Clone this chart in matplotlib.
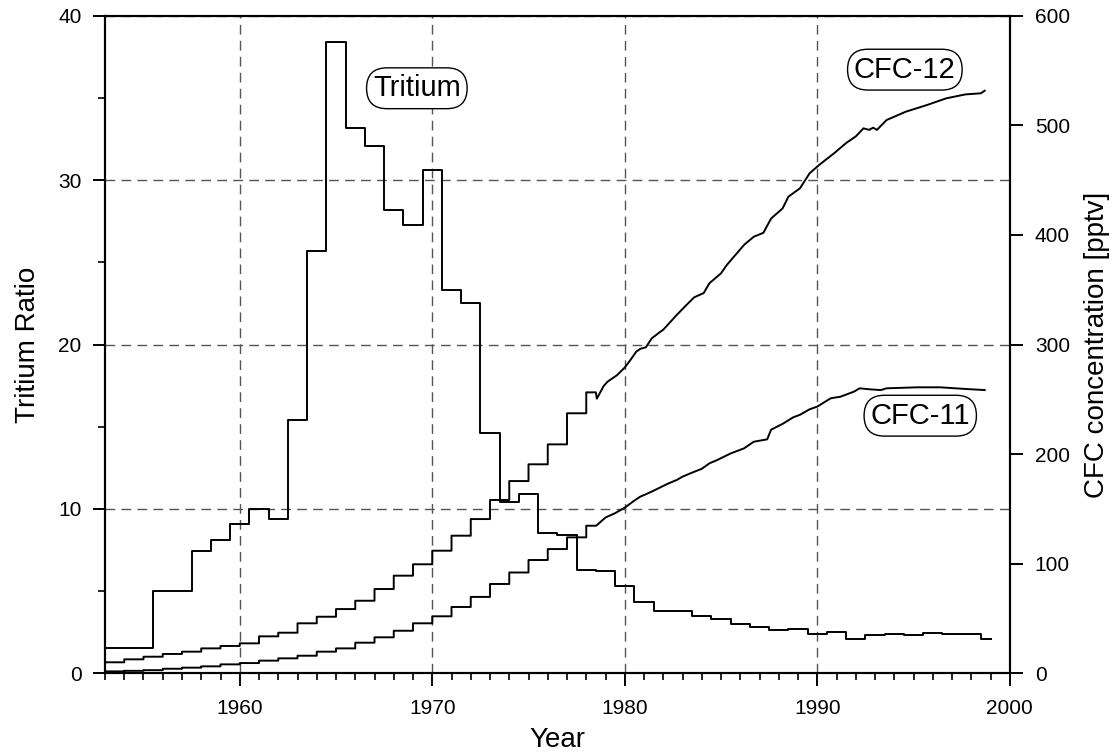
import numpy as np
import matplotlib.pyplot as plt
from matplotlib.ticker import MultipleLocator

plt.rcParams['font.family'] = ['Liberation Sans', 'DejaVu Sans']

# tritium ratio, one value per year
trit_years = np.arange(1953, 2000)
trit_vals = [1.5, 1.5, 1.5, 5.0, 5.0, 7.4, 8.1, 9.1, 10.0, 9.4,
             15.4, 25.7, 38.4, 33.2, 32.1, 28.2, 27.3, 30.6, 23.3, 22.5,
             14.6, 10.4, 10.9, 8.5, 8.4, 6.3, 6.2, 5.3, 4.3, 3.8,
             3.8, 3.5, 3.3, 3.0, 2.8, 2.6, 2.7, 2.4, 2.5, 2.1,
             2.3, 2.4, 2.3, 2.45, 2.4, 2.4, 2.05]

# CFC annual means up to 1978 (pptv)
cfc_years = np.arange(1953, 1979)
cfc12_annual = [9.8, 12.5, 14.9, 17.4, 19.5, 22.5, 24.7, 27.1, 33.5, 36.8,
                45.4, 51.4, 58.4, 66.0, 76.7, 88.9, 99.3, 111.7, 125.4, 140.6,
                158.0, 175.3, 190.6, 208.8, 237.2, 256.3]
cfc11_annual = [1.5, 2.0, 2.6, 3.9, 4.9, 6.1, 7.9, 9.1, 11.3, 13.4,
                15.8, 19.5, 22.5, 27.7, 32.6, 38.6, 45.4, 51.8, 60.3, 69.5,
                81.3, 91.8, 103.2, 113.2, 123.9, 134.5]
annual_end = 1978.5

# measured record after 1978.5
cfc12_t = [1978.5, 1978.55, 1978.9, 1979.1, 1979.6, 1980.0, 1980.3, 1980.6, 1980.8,
           1981.1, 1981.4, 1981.8, 1982.0, 1982.7, 1983.2, 1983.6, 1984.1, 1984.4,
           1985.0, 1985.3, 1986.2, 1986.7, 1987.2, 1987.6, 1988.2, 1988.5, 1989.1,
           1989.6, 1990.1, 1990.9, 1991.5, 1992.0, 1992.4, 1992.7, 1992.9, 1993.1,
           1993.6, 1994.6, 1995.7, 1996.7, 1997.7, 1998.5, 1998.7]
cfc12_v = [256.3, 250.5, 262.0, 266.0, 272.0, 279.0, 286.0, 293.5, 296.0,
           297.5, 305.6, 311.0, 313.5, 327.0, 336.0, 343.0, 347.0, 356.0,
           365.0, 372.6, 391.0, 398.4, 402.0, 415.0, 424.3, 435.0, 442.6,
           456.3, 464.0, 475.0, 484.0, 490.0, 497.4, 496.0, 498.0, 496.0,
           505.0, 512.6, 518.7, 524.8, 528.4, 529.4, 531.8]
cfc11_t = [1978.5, 1978.55, 1979.0, 1979.5, 1980.0, 1980.5, 1980.8, 1981.0, 1981.5,
           1982.2, 1982.7, 1983.0, 1983.5, 1984.0, 1984.4, 1984.8, 1985.5, 1986.2,
           1986.7, 1987.4, 1987.6, 1988.2, 1988.75, 1989.1, 1989.6, 1990.0, 1990.7,
           1991.2, 1991.9, 1992.2, 1992.7, 1993.3, 1993.6, 1995.2, 1996.4, 1997.7,
           1998.7]
cfc11_v = [134.5, 135.0, 142.0, 146.0, 151.0, 157.5, 161.0, 162.5, 166.5,
           172.6, 176.3, 179.3, 183.0, 186.5, 191.5, 194.5, 200.5, 205.2,
           211.2, 213.4, 222.2, 227.5, 233.5, 235.8, 240.8, 243.3, 250.9,
           252.3, 256.9, 260.0, 259.1, 258.4, 260.0, 260.9, 260.9, 259.4,
           258.4]


def stairs(years, vals, end):
    edges = np.append(years, end)
    return np.repeat(edges, 2)[1:-1], np.repeat(vals, 2)


fig = plt.figure(figsize=(11.17, 7.54), dpi=100)
ax1 = fig.add_axes([0.094, 0.1074, 0.81, 0.8714])
ax2 = ax1.twinx()

lw = 1.4
ax1.step(trit_years, trit_vals, where='mid', color='black', lw=lw)

for ann, t, v in [(cfc12_annual, cfc12_t, cfc12_v), (cfc11_annual, cfc11_t, cfc11_v)]:
    sx, sy = stairs(cfc_years, ann, annual_end)
    ax2.plot(np.concatenate([sx, t]), np.concatenate([sy, v]), color='black', lw=lw)

ax1.set_xlim(1953, 2000)
ax1.set_ylim(0, 40)
ax2.set_ylim(0, 600)

ax1.xaxis.set_major_locator(MultipleLocator(10))
ax1.xaxis.set_minor_locator(MultipleLocator(1))
ax1.yaxis.set_major_locator(MultipleLocator(10))
ax1.yaxis.set_minor_locator(MultipleLocator(5))
ax2.yaxis.set_major_locator(MultipleLocator(100))

ax1.grid(True, which='major', color='#555555', lw=1.0, ls=(0, (7, 4.5)))
ax1.set_axisbelow(True)

for ax in (ax1, ax2):
    for s in ax.spines.values():
        s.set_linewidth(1.5)
    ax.tick_params(which='major', direction='out', length=9, width=1.4, labelsize=15, pad=8)
    ax.tick_params(which='minor', direction='out', length=5, width=1.2)
ax1.tick_params(axis='x', pad=10)
ax2.tick_params(axis='y', pad=9)

ax1.set_xlabel('Year', fontsize=20, labelpad=6)
ax1.set_ylabel('Tritium Ratio', fontsize=20, labelpad=12)
ax2.set_ylabel('CFC concentration [pptv]', fontsize=20, labelpad=10)

box = dict(boxstyle='round,pad=0.22,rounding_size=0.7', fc='white', ec='black', lw=1.0)
ax2.text(1969.2, 534, 'Tritium', fontsize=21, ha='center', va='center', bbox=box)
ax2.text(1994.55, 551, 'CFC-12', fontsize=21, ha='center', va='center', bbox=box)
ax2.text(1995.35, 235, 'CFC-11', fontsize=21, ha='center', va='center', bbox=box)

fig.savefig('out.png', dpi=100)
